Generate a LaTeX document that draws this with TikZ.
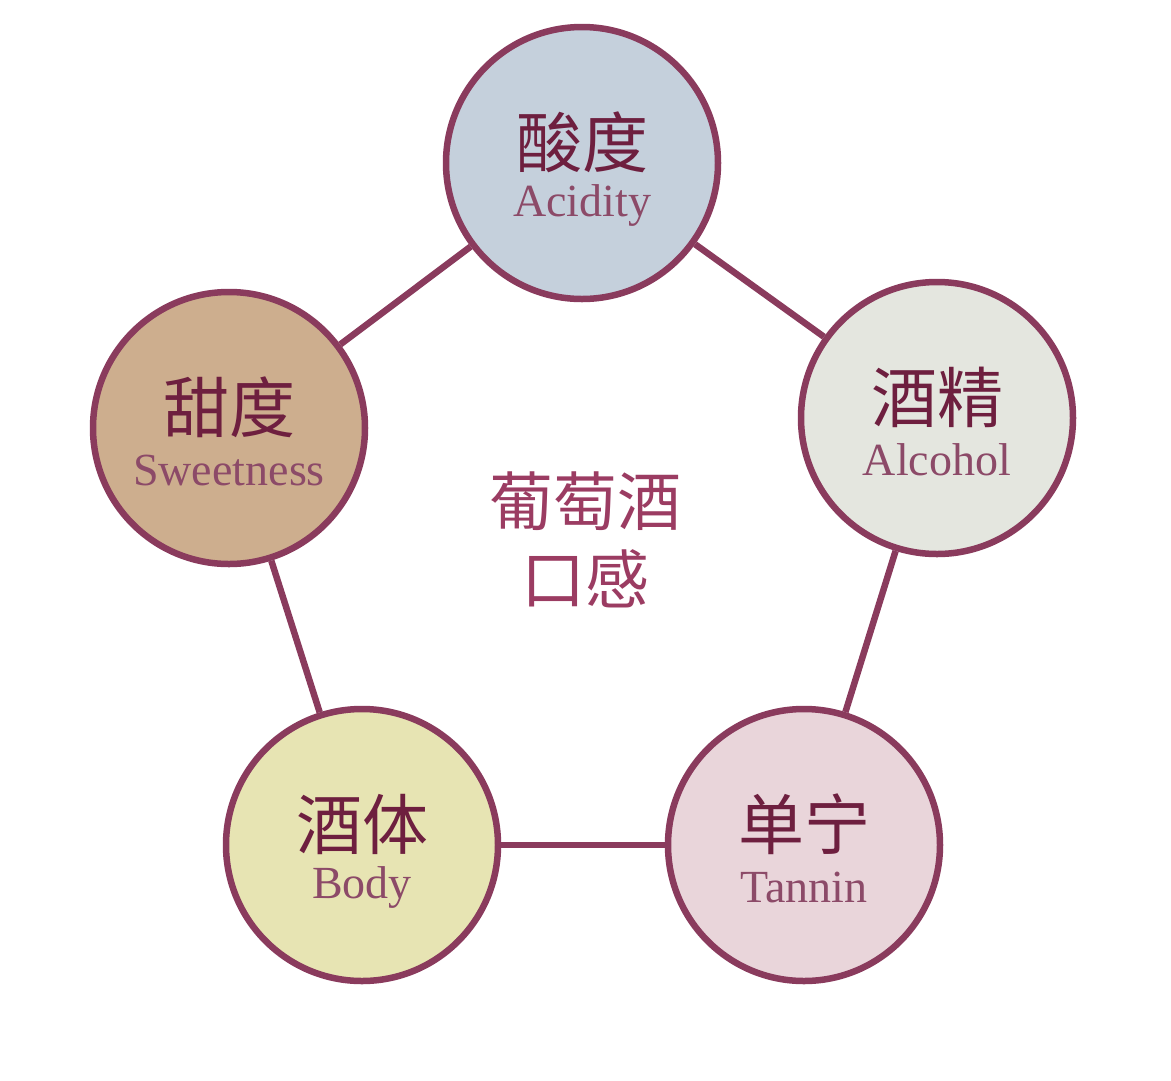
\documentclass[tikz,border=0pt]{standalone}
\usepackage{fontspec}
\setmainfont{Liberation Serif}
\newfontfamily\cjk{Noto Sans CJK SC}
\definecolor{wine}{HTML}{8A3B5D}
\definecolor{zhtext}{HTML}{6E1F3F}
\definecolor{entext}{HTML}{8C4A68}
\definecolor{midtext}{HTML}{9B3C62}
\definecolor{acidfill}{HTML}{C5D0DC}
\definecolor{alcofill}{HTML}{E4E6DF}
\definecolor{sweetfill}{HTML}{CDAE8E}
\definecolor{bodyfill}{HTML}{E7E4B3}
\definecolor{tannfill}{HTML}{E9D5DA}
\begin{document}
\begin{tikzpicture}[x=1pt,y=-1pt,
	taste/.style={circle,draw=wine,line width=6.5pt,minimum size=272pt,inner sep=0pt},
	zh/.style={font=\cjk\fontsize{66}{66}\selectfont,text=zhtext,inner sep=0pt},
	en/.style={font=\fontsize{46}{46}\selectfont,text=entext,inner sep=0pt},
	mid/.style={font=\cjk\fontsize{64}{78}\selectfont,text=midtext,align=center},
	link/.style={draw=wine,line width=6.5pt}]
	\useasboundingbox (0,0) rectangle (1171,1080);
	\foreach \n/\x/\y/\c/\zh/\en in {acid/582/163/acidfill/酸度/Acidity, alco/937/418/alcofill/酒精/Alcohol, sweet/229/428/sweetfill/甜度/Sweetness, body/362/845/bodyfill/酒体/Body, tann/804/845/tannfill/单宁/Tannin}
	{
		\node[taste,fill=\c] (\n) at (\x,\y) {};
		\node[zh] (\n-zh) at (\x,\y-21) {\zh};
		\node[en] (\n-en) at (\x,\y+42) {\en};
	}
	\draw[link] (acid) -- (alco);
	\draw[link] (alco) -- (tann);
	\draw[link] (tann) -- (body);
	\draw[link] (body) -- (sweet);
	\draw[link] (sweet) -- (acid);
	
	\node[mid] (taste) at (585,540) {葡萄酒\\口感};
\end{tikzpicture}
\end{document}
